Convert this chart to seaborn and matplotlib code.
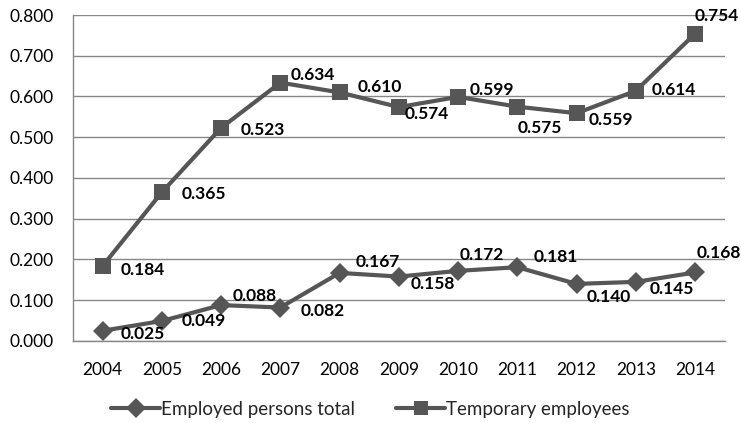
import numpy as np
import pandas as pd
import matplotlib
matplotlib.use("Agg")
import matplotlib.pyplot as plt
import seaborn as sns

years = ["2004", "2005", "2006", "2007", "2008", "2009", "2010", "2011", "2012", "2013", "2014"]
employed_total = [0.025, 0.049, 0.088, 0.082, 0.167, 0.158, 0.172, 0.181, 0.140, 0.145, 0.168]
temporary = [0.184, 0.365, 0.523, 0.634, 0.610, 0.574, 0.599, 0.575, 0.559, 0.614, 0.754]
series_names = ["Employed persons total", "Temporary employees"]

# label offsets in pixels (left edge of text relative to the point)
emp_offsets = [(18, -3), (20, 0), (12, 9), (20, -3), (16, 11), (12, -7), (2, 16), (16, 10), (10, -13), (14, -7), (2, 19)]
tmp_offsets = [(18, -4), (20, -2), (20, -2), (10, 8), (18, 5), (6, -7), (12, 7), (0, -21), (12, -7), (16, 1), (0, 18)]

df = pd.DataFrame({
    "pos": list(range(len(years))) * 2,
    "value": employed_total + temporary,
    "series": [series_names[0]] * len(years) + [series_names[1]] * len(years),
})

sns.set_style("white")
plt.rcParams["font.family"] = ["Lato", "DejaVu Sans"]

line_col = "#565656"
fig = plt.figure(figsize=(7.41, 4.23), dpi=100)
ax = fig.add_axes([0.0985, 0.194, 0.8795, 0.7705])

sns.lineplot(data=df, x="pos", y="value", hue="series", style="series",
             palette=[line_col, line_col], markers={series_names[0]: "D", series_names[1]: "s"},
             dashes=False, linewidth=3, markersize=10, markeredgewidth=0, ax=ax, legend=True)
# square marker is a bit bigger
ax.lines[1].set_markersize(11)

for vals, offs in [(employed_total, emp_offsets), (temporary, tmp_offsets)]:
    for i, (v, o) in enumerate(zip(vals, offs)):
        ax.annotate(f"{v:.3f}", (i, v), xytext=o, textcoords="offset pixels",
                    ha="left", va="center", fontsize=12.5, fontweight="bold", color="black")

ax.set_xlim(-0.5, len(years) - 0.5)
ax.set_ylim(0, 0.8)
ax.set_yticks(np.arange(0, 0.81, 0.1))
ax.set_yticklabels([f"{t:.3f}" for t in np.arange(0, 0.81, 0.1)])
ax.set_xticks(range(len(years)))
ax.set_xticklabels(years)
ax.set_xticks(np.arange(-0.5, len(years), 1), minor=True)
ax.tick_params(axis="x", which="major", length=0, pad=15, labelsize=12.5, colors="black")
ax.tick_params(axis="x", which="minor", length=6, width=1, color="#878787", direction="out")
ax.tick_params(axis="y", length=5, width=1, color="#878787", labelsize=12.5, labelcolor="black", pad=9)
ax.yaxis.grid(True, color="#878787", linewidth=1)
ax.set_axisbelow(True)
for s in ["top", "right"]:
    ax.spines[s].set_visible(False)
for s in ["left", "bottom"]:
    ax.spines[s].set_color("#878787")
    ax.spines[s].set_linewidth(1)
ax.set_xlabel("")
ax.set_ylabel("")

handles, labels = ax.get_legend_handles_labels()
ax.legend_.remove()
fig.legend(handles, labels, loc="center", bbox_to_anchor=(0.5, 0.033), ncol=2,
           frameon=False, fontsize=13.5, handlelength=2.6, columnspacing=2.2, handletextpad=0.05)

fig.savefig("out.png", dpi=100)
